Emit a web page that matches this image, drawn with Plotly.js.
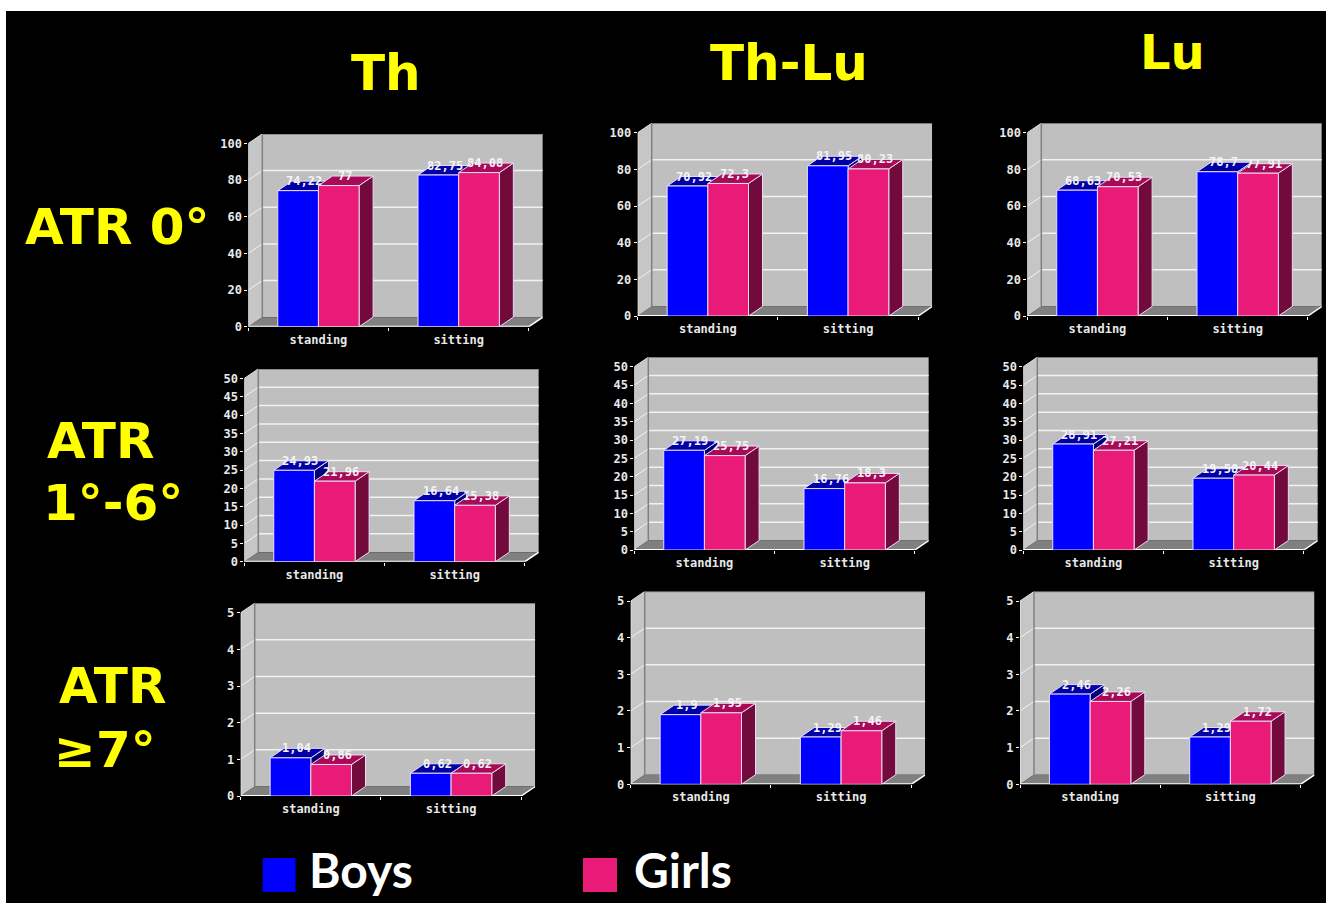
<!DOCTYPE html>
<html><head><meta charset="utf-8">
<script src="https://cdn.plot.ly/plotly-3.0.1.min.js"></script>
<style>html,body{margin:0;padding:0;background:#fff;overflow:hidden}</style>
</head><body><div id="chart" style="width:1326px;height:903px"></div>
<script>
const categories = ["standing", "sitting"];
const boysLabel = "Boys", girlsLabel = "Girls";

const boysTh0 = [74.22, 82.75],  girlsTh0 = [77, 84.08];
const boysTL0 = [70.92, 81.95],  girlsTL0 = [72.3, 80.23];
const boysLu0 = [68.63, 78.7],   girlsLu0 = [70.53, 77.91];
const boysTh1 = [24.93, 16.64],  girlsTh1 = [21.96, 15.38];
const boysTL1 = [27.19, 16.76],  girlsTL1 = [25.75, 18.3];
const boysLu1 = [28.91, 19.58],  girlsLu1 = [27.21, 20.44];
const boysTh7 = [1.04, 0.62],    girlsTh7 = [0.86, 0.62];
const boysTL7 = [1.9, 1.29],     girlsTL7 = [1.95, 1.46];
const boysLu7 = [2.46, 1.29],    girlsLu7 = [2.26, 1.72];

const ticks100 = [0, 20, 40, 60, 80, 100];
const ticks50  = [0, 5, 10, 15, 20, 25, 30, 35, 40, 45, 50];
const ticks5   = [0, 1, 2, 3, 4, 5];

// panel layout (front-left x, front-bottom y in page pixels)
const W = 1326, H = 903, FRONT_W = 280.5, FRONT_H = 183.3, DEPTH_X = 14, DEPTH_Y = 9.5;
const panels = [
  {b: boysTh0, g: girlsTh0, t: ticks100, l: 248.3,  y0: 326.7},
  {b: boysTL0, g: girlsTL0, t: ticks100, l: 637.7,  y0: 316},
  {b: boysLu0, g: girlsLu0, t: ticks100, l: 1027.3, y0: 316},
  {b: boysTh1, g: girlsTh1, t: ticks50,  l: 244.3,  y0: 561.7},
  {b: boysTL1, g: girlsTL1, t: ticks50,  l: 634.3,  y0: 550},
  {b: boysLu1, g: girlsLu1, t: ticks50,  l: 1023.3, y0: 550},
  {b: boysTh7, g: girlsTh7, t: ticks5,   l: 240.7,  y0: 796},
  {b: boysTL7, g: girlsTL7, t: ticks5,   l: 630.7,  y0: 784.3},
  {b: boysLu7, g: girlsLu7, t: ticks5,   l: 1020,   y0: 784.3}
];

const BLUE = "#0000ff", PINK = "#e91a78", BLUE_TOP = "#0000a6", PINK_TOP = "#a80a58",
      BLUE_SIDE = "#00007c", PINK_SIDE = "#720b3c", EDGE = "#e8dcf4",
      WALL = "#bfbfbf", SIDEWALL = "#c6c6c6", FLOOR = "#808080", GRID = "#f2f2f2";
const MONO = '"DejaVu Sans Mono", monospace', HAND = '"DejaVu Sans", sans-serif', LEG = 'Lato, "Noto Sans", sans-serif';
const HALF = 0.29;

const fmt = v => String(v).replace(".", ",");
const poly = pts => "M" + pts.map(p => p[0] + "," + p[1]).join("L") + "Z";

const traces = [], shapes = [], annotations = [];
const layout = {
  width: W, height: H, margin: {l: 0, r: 0, t: 0, b: 0}, autosize: false,
  paper_bgcolor: "#ffffff", plot_bgcolor: "rgba(0,0,0,0)",
  barmode: "group", bargap: 0.42, bargroupgap: 0, showlegend: false, hovermode: false
};

shapes.push({type: "rect", xref: "paper", yref: "paper", layer: "below",
  x0: 6 / W, x1: 1, y0: 0, y1: 1 - 11 / H, fillcolor: "#000000", line: {width: 0}});

panels.forEach((p, idx) => {
  const n = idx + 1, sfx = n === 1 ? "" : n;
  const xr = "x" + sfx, yr = "y" + sfx;
  const top = p.t[p.t.length - 1];
  const dx = DEPTH_X / (FRONT_W / 2), dy = DEPTH_Y * top / FRONT_H;
  const xLo = -0.5, xHi = 1.5, xEnd = xHi + dx, yEnd = top + dy;

  layout["xaxis" + sfx] = {
    domain: [p.l / W, (p.l + FRONT_W + DEPTH_X) / W],
    anchor: yr, type: "category", categoryorder: "array", categoryarray: categories,
    range: [xLo, xEnd], tickson: "boundaries", ticks: "outside", ticklen: 3, tickwidth: 1,
    tickcolor: "#ffffff", showgrid: false, zeroline: false, showline: false,
    tickfont: {family: MONO, size: 12, color: "#e8e8e8", weight: 700}, ticklabelstandoff: 4
  };
  layout["yaxis" + sfx] = {
    domain: [1 - p.y0 / H, 1 - (p.y0 - FRONT_H - DEPTH_Y) / H],
    anchor: xr, range: [0, yEnd], tickmode: "array", tickvals: p.t, ticktext: p.t.map(String),
    ticks: "outside", ticklen: 3, tickwidth: 1, tickcolor: "#ffffff",
    showgrid: false, zeroline: false, showline: false,
    tickfont: {family: MONO, size: 12, color: "#e8e8e8", weight: 700}
  };

  const path = (pts, fill, line) => shapes.push({type: "path", xref: xr, yref: yr, layer: "below",
    path: poly(pts), fillcolor: fill, line: line || {width: 0}});
  const seg = (x0, y0, x1, y1, color, width) => shapes.push({type: "line", xref: xr, yref: yr, layer: "below",
    x0, y0, x1, y1, line: {color, width}});

  // walls
  path([[xLo + dx, dy], [xEnd, dy], [xEnd, yEnd], [xLo + dx, yEnd]], WALL);
  path([[xLo, 0], [xLo + dx, dy], [xLo + dx, yEnd], [xLo, top]], SIDEWALL);
  path([[xLo, 0], [xHi, 0], [xEnd, dy], [xLo + dx, dy]], FLOOR);

  // grid lines on back and side wall
  p.t.slice(1, -1).forEach(v => {
    seg(xLo + dx, v + dy, xEnd, v + dy, GRID, 1.5);
    seg(xLo, v, xLo + dx, v + dy, GRID, 1);
  });
  seg(xLo + dx, dy, xLo + dx, yEnd, "#808080", 1.5);
  seg(xLo + dx, yEnd, xEnd, yEnd, "#808080", 1.5);
  seg(xLo, top, xLo + dx, yEnd, "#e0e0e0", 1);
  seg(xLo, 0, xLo, top, "#e0e0e0", 1.5);
  seg(xLo, 0, xHi, 0, "#ffffff", 2);
  seg(xHi, 0, xEnd, dy, "#ffffff", 1.5);

  // 3D faces of each bar, drawn behind the flat front faces
  const edge = {color: EDGE, width: 1};
  categories.forEach((c, i) => {
    [[p.b[i], i - HALF, BLUE_TOP, BLUE_SIDE], [p.g[i], i, PINK_TOP, PINK_SIDE]].forEach(([v, x, topCol, sideCol]) => {
      const r = x + HALF;
      path([[r, 0], [r + dx, dy], [r + dx, v + dy], [r, v]], sideCol, edge);
      path([[x, v], [r, v], [r + dx, v + dy], [x + dx, v + dy]], topCol, edge);
    });
  });

  [[boysLabel, p.b, BLUE], [girlsLabel, p.g, PINK]].forEach(([name, vals, col]) => {
    traces.push({type: "bar", name, x: categories, y: vals, xaxis: xr, yaxis: yr,
      marker: {color: col, line: {color: EDGE, width: 1}}, cliponaxis: false});
  });

  categories.forEach((c, i) => {
    [[p.b[i], i - HALF / 2], [p.g[i], i + HALF / 2]].forEach(([v, x]) => {
      annotations.push({xref: xr, yref: yr, x: x + dx * 0.45, y: v + dy, text: fmt(v), showarrow: false,
        xanchor: "center", yanchor: "middle", font: {family: MONO, size: 12, color: "#f4f4f4", weight: 700}});
    });
  });
});

const label = (text, x, y, size, color, family) => annotations.push({xref: "paper", yref: "paper",
  x: x / W, y: 1 - y / H, text, showarrow: false, xanchor: "center", yanchor: "middle",
  font: {family: family || HAND, size, color, weight: 700}});

const YEL = "#ffff00";
label("Th", 386, 73, 50, YEL);
label("Th-Lu", 789, 63, 50, YEL);
label("Lu", 1172, 52, 48, YEL);
label("ATR 0°", 117, 227, 50, YEL);
label("ATR", 100, 441, 50, YEL);
label("1°-6°", 113, 503, 50, YEL);
label("ATR", 112, 686, 50, YEL);
label("≥7°", 105, 750, 50, YEL);
label(boysLabel, 361, 869, 48, "#ffffff", LEG);
label(girlsLabel, 683, 869, 48, "#ffffff", LEG);

[[262.7, 295.5, BLUE], [583, 617, PINK]].forEach(([a, b, col]) => shapes.push({type: "rect",
  xref: "paper", yref: "paper", x0: a / W, x1: b / W, y0: 1 - 892 / H, y1: 1 - 858 / H,
  fillcolor: col, line: {width: 0}}));

layout.shapes = shapes;
layout.annotations = annotations;
Plotly.newPlot("chart", traces, layout, {displayModeBar: false, staticPlot: true});
</script></body></html>
